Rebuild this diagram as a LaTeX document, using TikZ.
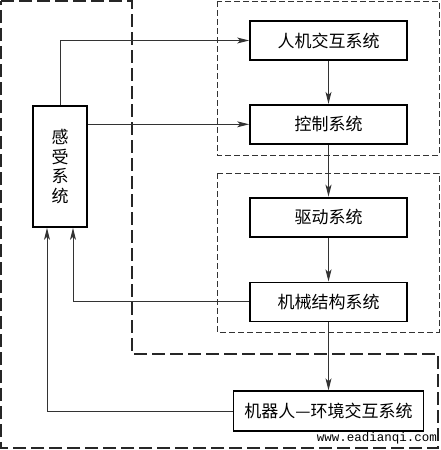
\documentclass[tikz,border=0pt]{standalone}
\usepackage{fontspec}
\newfontfamily\cjk{Noto Sans CJK SC}
\newfontfamily\urlfont{Liberation Mono}
\usetikzlibrary{positioning}
\usetikzlibrary{arrows.meta}

\begin{document}
\begin{tikzpicture}[
  x=1pt, y=-1pt,
  font=\cjk\fontsize{17}{19.5}\selectfont,
  sys/.style={draw,line width=1.8pt,minimum width=157pt,minimum height=39pt,inner sep=0pt},
  sense/.style={draw,line width=1.8pt,minimum width=54pt,minimum height=121pt,inner sep=0pt},
  group/.style={draw,black!80,line width=0.9pt,dash pattern=on 6pt off 3pt},
  outer/.style={draw,black!85,line width=1.8pt,dash pattern=on 13pt off 5pt},
  to/.style={->,>={Stealth[length=12pt,width=6pt,inset=3pt]},black!80,line width=1pt},
  every node/.style={align=center}]

  \useasboundingbox (0,0) rectangle (441,450);

  % system boxes
  \node[sys] (hmi) at (328.5,40.5) {人机交互系统};
  \node[sys] (control) [below=43pt of hmi] {控制系统};
  \node[sys] (drive) [below=52pt of control] {驱动系统};
  \node[sys] (mech) [below=44pt of drive] {机械结构系统};
  \node[sys,minimum width=190pt,minimum height=40pt] (env) [below=68pt of mech] {机器人—环境交互系统};
  \node[sense] (sensing) at (60,166.5) {感\\受\\系\\统};

  % dashed groups
  \draw[group] (217,1) rectangle (439,155);
  \draw[group] (217,173) rectangle (439,332);
  \draw[outer] (1,1) -- (132,1) -- (132,354) -- (438,354) -- (438,448) -- (1,448) -- cycle;

  % signal flow
  \draw[to] (sensing.north) |- (hmi.west);
  \draw[to] (sensing.east |- control.west) -- (control.west);
  \draw[to] (hmi) -- (control);
  \draw[to] (control) -- (drive);
  \draw[to] (drive) -- (mech);
  \draw[to] (mech) -- (env);
  \draw[to] (mech.west) -| ([xshift=13pt]sensing.south);
  \draw[to] (env.west) -| ([xshift=-13pt]sensing.south);

  \node[anchor=base east,inner sep=0pt,font=\urlfont\fontsize{12.5}{14}\selectfont] (site) at (437,441) {www.eadianqi.com};
\end{tikzpicture}
\end{document}
